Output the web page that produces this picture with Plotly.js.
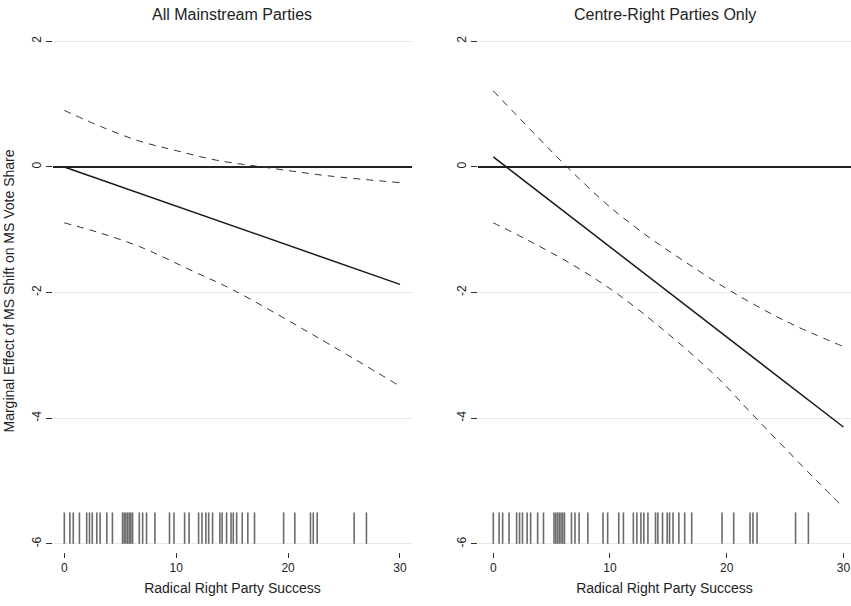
<!DOCTYPE html>
<html>
<head>
<meta charset="utf-8">
<script src="https://cdn.plot.ly/plotly-3.0.1.min.js"></script>
<style>html,body{margin:0;padding:0;background:#fff;}#chart{width:851px;height:606px;}</style>
</head>
<body>
<div id="chart"></div>
<script>
// Panel titles
const panelTitles = ["All Mainstream Parties", "Centre-Right Parties Only"];
const xTitle = "Radical Right Party Success";
const yTitle = "Marginal Effect of MS Shift on MS Vote Share";
const yTickVals = [2, 0, -2, -4, -6];
const yTickText = ["2", "0", "-2", "-4", "-6"];
const xTickVals = [0, 10, 20, 30];

// Left panel: All Mainstream Parties
const leftEstX = [0, 30];
const leftEstY = [0.0, -1.87];
const leftUpX = [0, 3.44, 6.74, 10, 13.6, 18.1, 23.5, 30];
const leftUpY = [0.90, 0.63, 0.41, 0.26, 0.107, -0.01, -0.14, -0.25];
const leftLoX = [0, 3, 6.74, 11.5, 15.1, 22.3, 30];
const leftLoY = [-0.89, -1.04, -1.27, -1.66, -1.96, -2.68, -3.49];

// Right panel: Centre-Right Parties Only
const rightEstX = [0, 30];
const rightEstY = [0.16, -4.14];
const rightUpX = [0, 3.57, 6.43, 9.57, 11.0, 13.57, 16.43, 20.2, 25.0, 30];
const rightUpY = [1.21, 0.52, -0.02, -0.57, -0.79, -1.15, -1.51, -1.96, -2.45, -2.86];
const rightLoX = [0, 3.0, 7.0, 10.7, 15.0, 19.3, 22.1, 25.0, 27.9, 30];
const rightLoY = [-0.89, -1.17, -1.58, -2.03, -2.66, -3.37, -3.92, -4.48, -5.03, -5.42];

// Rug: observed values of radical right party success
const rugValues = [0, 0.5, 0.8, 1.35, 2.0, 2.25, 2.5, 2.9, 3.2, 3.8, 4.3, 5.2, 5.35, 5.5, 5.65, 5.8, 5.95, 6.1,
  6.7, 7.0, 7.35, 8.1, 9.4, 9.8, 10.75, 11.15, 12.0, 12.3, 12.65, 12.9, 13.25, 13.9, 14.1, 14.5, 14.9, 15.1,
  15.4, 15.9, 16.4, 17.0, 19.6, 20.6, 22.0, 22.25, 22.6, 25.9, 27.0];
const rugBottom = -6;
const rugTop = -5.5;

function rugXY() {
  const xs = [], ys = [];
  rugValues.forEach(v => { xs.push(v, v, null); ys.push(rugBottom, rugTop, null); });
  return {xs, ys};
}
const rug = rugXY();

const estLine = {color: '#1a1a1a', width: 1.5};
const ciLine = {color: '#333333', width: 1, dash: '7px,6px', shape: 'spline', smoothing: 1};
const rugLine = {color: '#6b6b6b', width: 1.6};

const traces = [];
[["x", "y", leftEstX, leftEstY, leftUpX, leftUpY, leftLoX, leftLoY],
 ["x2", "y2", rightEstX, rightEstY, rightUpX, rightUpY, rightLoX, rightLoY]].forEach(p => {
  const [xa, ya, ex, ey, ux, uy, lx, ly] = p;
  traces.push({x: rug.xs, y: rug.ys, xaxis: xa, yaxis: ya, mode: 'lines', line: rugLine, hoverinfo: 'skip'});
  traces.push({x: ux, y: uy, xaxis: xa, yaxis: ya, mode: 'lines', line: ciLine});
  traces.push({x: lx, y: ly, xaxis: xa, yaxis: ya, mode: 'lines', line: ciLine});
  traces.push({x: ex, y: ey, xaxis: xa, yaxis: ya, mode: 'lines', line: estLine});
});

const fontFam = 'Liberation Sans, Arial, Helvetica, sans-serif';
function xaxis(domain, range) {
  return {
    domain: domain, range: range, tickvals: xTickVals, ticks: 'outside', ticklen: 5, tickwidth: 1,
    tickcolor: '#333', showgrid: false, zeroline: false, showline: false,
    tickfont: {family: fontFam, size: 12, color: '#222'},
    title: {text: xTitle, font: {family: fontFam, size: 14, color: '#222'}, standoff: 8}
  };
}
function yaxis(anchor, withTitle) {
  const a = {
    anchor: anchor, range: [-6.13, 2.18], tickvals: yTickVals, ticktext: yTickText, ticks: 'outside', ticklen: 6, tickwidth: 1,
    tickcolor: '#333', tickangle: -90, showgrid: true, gridcolor: '#e8e8e8', gridwidth: 1,
    zeroline: true, zerolinecolor: '#222', zerolinewidth: 1.2, showline: false,
    tickfont: {family: fontFam, size: 12, color: '#222'}
  };
  if (withTitle) a.title = {text: yTitle, font: {family: fontFam, size: 14, color: '#222'}, standoff: 12};
  return a;
}

const layout = {
  width: 851, height: 606,
  margin: {l: 0, r: 0, t: 30, b: 54},
  paper_bgcolor: '#fff', plot_bgcolor: '#fff',
  showlegend: false,
  xaxis: xaxis([0.0623, 0.4841], [-1.01, 31.07]),
  yaxis: yaxis('x', true),
  xaxis2: xaxis([0.5617, 1.0], [-1.31, 30.65]),
  yaxis2: yaxis('x2', false),
  annotations: [
    {text: panelTitles[0], xref: 'x domain', yref: 'paper', x: 0.5, y: 1, yshift: 16, showarrow: false,
     xanchor: 'center', yanchor: 'middle', font: {family: fontFam, size: 16, color: '#222'}},
    {text: panelTitles[1], xref: 'x2 domain', yref: 'paper', x: 0.5, y: 1, yshift: 16, showarrow: false,
     xanchor: 'center', yanchor: 'middle', font: {family: fontFam, size: 16, color: '#222'}}
  ]
};

Plotly.newPlot('chart', traces, layout, {displayModeBar: false, staticPlot: true});
</script>
</body>
</html>
